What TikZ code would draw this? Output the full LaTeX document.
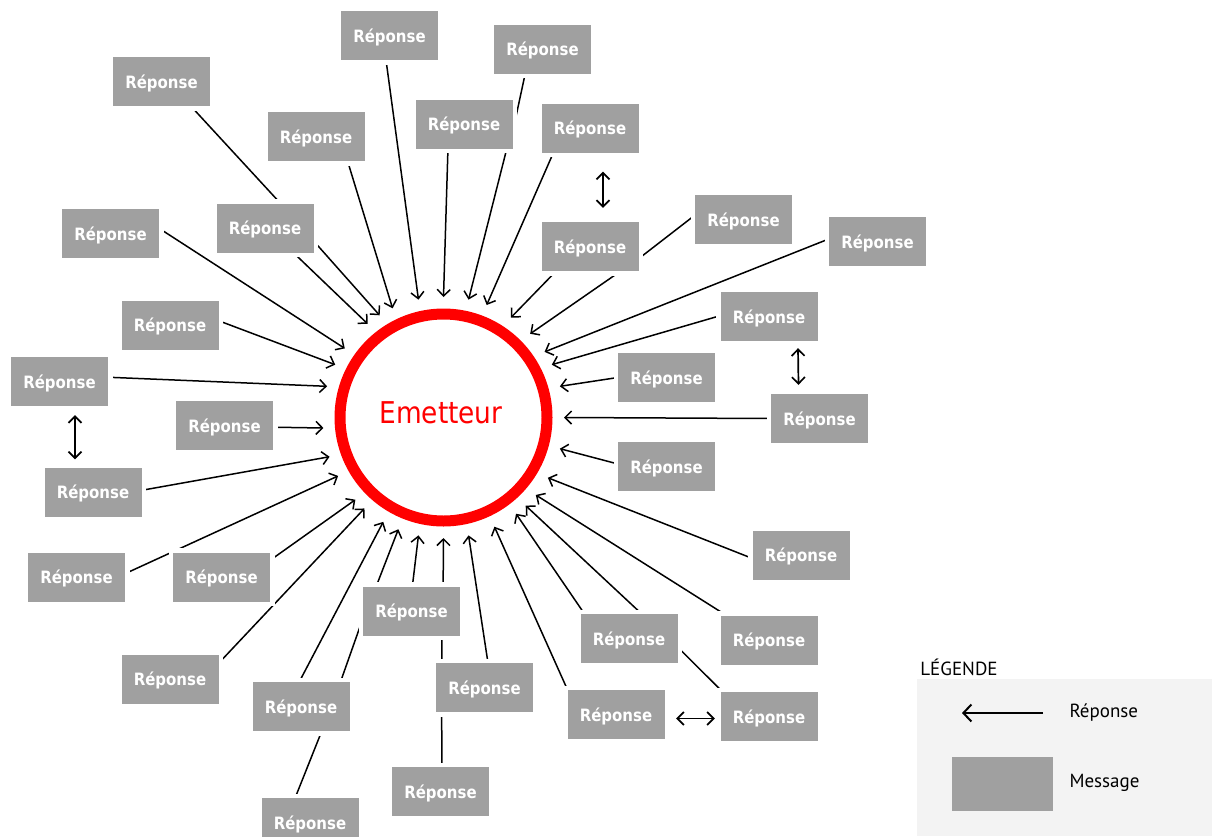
\documentclass[tikz,border=0pt]{standalone}
\usepackage{fontspec}
\setmainfont{DejaVu Sans}[FakeStretch=0.88]
\newfontfamily\legfont{PT Sans}
\usetikzlibrary{arrows.meta,backgrounds}
\definecolor{gris}{RGB}{160,160,160}
\definecolor{rouge}{RGB}{255,0,0}
\definecolor{fondleg}{RGB}{243,243,243}
\begin{document}
\begin{tikzpicture}[x=1pt,y=-1pt,
  >={Straight Barb[length=6.5pt,width=13pt]},
  rep/.style={fill=gris, text=white, font=\bfseries\fontsize{17}{18}\selectfont,
    minimum width=97pt, minimum height=49pt, inner sep=0pt,
    text height=13pt, text depth=0pt, preaction={draw=white, line width=9pt}},
  fl/.style={->, line width=1.5pt},
  trait/.style={line width=1.5pt},
  dbl/.style={<->, line width=1.7pt},
  leg/.style={font=\legfont\fontsize{19}{22}\selectfont}]
\useasboundingbox (0,0) rectangle (1212,836);
\node [circle, draw=rouge, line width=11pt, minimum size=207pt, inner sep=0pt, outer sep=17pt] (em) at (443.5,417.5) {};
\node [text=rouge, font=\fontsize{30}{34}\selectfont] (emt) at (441,413) {Emetteur};
\node [rep] (r1) at (389.5,35.5) {Réponse};
\node [rep] (r2) at (542.5,49) {Réponse};
\node [rep] (r3) at (161.5,81.5) {Réponse};
\node [rep] (r4) at (316,136.5) {Réponse};
\node [rep] (r5) at (464,124) {Réponse};
\node [rep] (r6) at (590,128) {Réponse};
\node [rep] (r7) at (265,228) {Réponse};
\node [rep] (r8) at (110.5,233.5) {Réponse};
\node [rep] (r9) at (590,246.5) {Réponse};
\node [rep] (r10) at (743.5,219.5) {Réponse};
\node [rep] (r11) at (877.5,241.5) {Réponse};
\node [rep] (r12) at (170,325) {Réponse};
\node [rep] (r13) at (769,316.5) {Réponse};
\node [rep] (r14) at (59.5,381.5) {Réponse};
\node [rep] (r15) at (666.5,377.5) {Réponse};
\node [rep] (r16) at (224.5,425.5) {Réponse};
\node [rep] (r17) at (819.5,418.5) {Réponse};
\node [rep] (r18) at (93,492) {Réponse};
\node [rep] (r19) at (666.5,466.5) {Réponse};
\node [rep] (r20) at (76.5,577) {Réponse};
\node [rep] (r21) at (221.5,577) {Réponse};
\node [rep] (r22) at (801,555) {Réponse};
\node [rep] (r23) at (411.5,611) {Réponse};
\node [rep] (r24) at (629,638.5) {Réponse};
\node [rep] (r25) at (769,640) {Réponse};
\node [rep] (r26) at (170,679) {Réponse};
\node [rep] (r27) at (301,706.5) {Réponse};
\node [rep] (r28) at (484.5,687.5) {Réponse};
\node [rep] (r29) at (616,714.5) {Réponse};
\node [rep] (r30) at (769,716.5) {Réponse};
\node [rep] (r31) at (440.5,791.5) {Réponse};
\node [rep] (r32) at (310,822.5) {Réponse};
\begin{scope}[on background layer]
\draw [fl] (r14.5) -- (em.165);
\draw [fl] (r12.5) -- (em.154);
\draw [fl] (r8.6) -- (em.145);
\draw [fl] (r7.-41) -- (em.129);
\draw [fl] (r7.-15) -- (em.122);
\draw [fl] (r4.-38) -- (em.115);
\draw [fl] (r1.-98) -- (em.102);
\draw [fl] (r5.-123) -- (em.90);
\draw [fl] (r5.-30) -- (em.78);
\draw [fl] (r6.-146) -- (em.69);
\draw [fl] (r9.-144) -- (em.56);
\draw [fl] (r9.-39) -- (em.44);
\draw [fl] (r11.177) -- (em.33);
\draw [fl] (r13.179) -- (em.26);
\draw [fl] (r15.west) -- (em.15);
\draw [fl] (r17.west) -- (em.0);
\draw [fl] (r19.177) -- (em.-15);
\draw [fl] (r22.184) -- (em.-30);
\draw [fl] (r25.150) -- (em.-40);
\draw [fl] (r24.63) -- (em.-47);
\draw [fl] (r24.151) -- (em.-53);
\draw [fl] (r29.153) -- (em.-65);
\draw [fl] (r28.82) -- (em.-78);
\draw [fl] (r23.38) -- (em.-90);
\draw [fl] (r23.88) -- (em.-102);
\draw [fl] (r23.145) -- (em.-112);
\draw [fl] (r27.94) -- (em.-120);
\draw [fl] (r26.18) -- (em.-131);
\draw [fl] (r21.19) -- (em.-137);
\draw [fl] (r20.4) -- (em.-151);
\draw [fl] (r18.2) -- (em.-161);
\draw [fl] (r16.-2) -- (em.-175);
\draw [trait] (r3.-40) -- (r7.58);
\draw [trait] (r2.-125) -- (r5.-9);
\draw [trait] (r10.175) -- (r9.-14);
\draw [trait] (r27.32) -- (r23.189);
\draw [trait] (r27.-50) -- (r32.121);
\draw [trait] (r23.-39) -- (r28.150);
\draw [trait] (r28.-150) -- (r31.87);
\draw [trait] (r24.-10) -- (r30.152);
\draw [dbl] ([xshift=13pt,yshift=-19pt]r6.south) -- ([xshift=13pt,yshift=14pt]r9.north);
\draw [dbl] ([xshift=29pt,yshift=-7pt]r13.south) -- ([xshift=-21pt,yshift=9pt]r17.north);
\draw [dbl] ([xshift=15.5pt,yshift=-9pt]r14.south) -- ([xshift=-18pt,yshift=8pt]r18.north);
\draw [dbl] ([xshift=11.5pt,yshift=-4pt]r29.east) -- ([xshift=-5.5pt,yshift=-2pt]r30.west);
\end{scope}
\fill [fondleg] (917,679) rectangle (1212,836);
\node [leg] (lg) at (959,667) {LÉGENDE};
\coordinate (la1) at (1043,713);
\coordinate (la2) at (962,713);
\draw [->, line width=2pt, >={Straight Barb[length=8pt,width=17pt]}] (la1) -- (la2);
\node [leg, anchor=west] (lrep) at (1066,713) {Réponse};
\node [fill=gris, minimum width=101pt, minimum height=54pt] (msg) at (1002.5,784) {};
\node [leg, anchor=west] (lmsg) at (1066,783) {Message};
\end{tikzpicture}
\end{document}
